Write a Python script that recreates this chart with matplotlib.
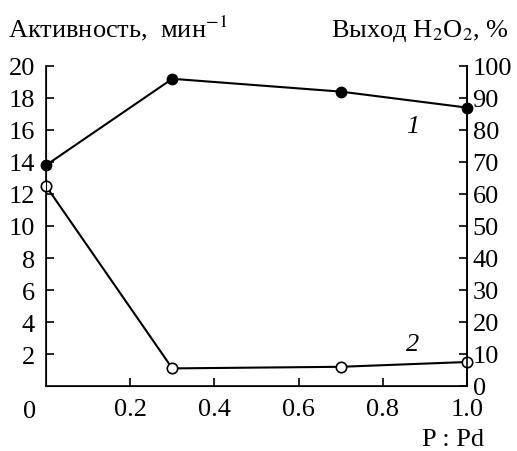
import matplotlib
matplotlib.use("Agg")
import matplotlib.pyplot as plt

x1 = [0.0, 0.3, 0.7, 1.0]
activity = [13.8, 19.2, 18.4, 17.4]
x2 = [0.0, 0.3, 0.7, 1.0]
yield_h2o2 = [12.5, 1.1, 1.2, 1.5]  # plotted on left scale

left_ticks = [2, 4, 6, 8, 10, 12, 14, 16, 18, 20]
right_ticks = [0, 10, 20, 30, 40, 50, 60, 70, 80, 90, 100]
x_ticks = [0.2, 0.4, 0.6, 0.8, 1.0]
x_tick_labels = ["0.2", "0.4", "0.6", "0.8", "1.0"]

plt.rcParams['font.family'] = ['Liberation Serif', 'DejaVu Serif']
plt.rcParams['mathtext.fontset'] = 'stix'
fs = 19

W, H = 517, 452
fig = plt.figure(figsize=(W / 100, H / 100), dpi=100)
ax = fig.add_axes([46 / W, 1 - 387 / H, 421 / W, 320 / H])
ax.set_xlim(0, 1.0)
ax.set_ylim(0, 20)

ax.plot(x1, activity, color='black', lw=1.5, marker='o', ms=7.5,
        mfc='black', mec='black', clip_on=False, zorder=5)
ax.plot(x2, yield_h2o2, color='black', lw=1.5, marker='o', ms=7.5,
        mfc='white', mec='black', mew=1.2, clip_on=False, zorder=5)

ax.spines['top'].set_visible(False)
for s in ['left', 'right', 'bottom']:
    ax.spines[s].set_linewidth(1.2)

ax.set_yticks(left_ticks)
ax.set_yticklabels([str(t) for t in left_ticks])
ax.set_xticks(x_ticks)
ax.set_xticklabels(x_tick_labels)
ax.tick_params(axis='x', direction='in', length=6, width=1.2, labelsize=fs, pad=9)
ax.tick_params(axis='y', direction='in', length=6, width=1.2, labelsize=fs, pad=8)

ax2 = ax.twinx()
ax2.set_ylim(0, 100)
ax2.set_yticks(right_ticks)
ax2.spines['top'].set_visible(False)
ax2.spines['right'].set_linewidth(1.2)
ax2.tick_params(axis='y', direction='in', length=6, width=1.2, labelsize=fs, pad=4)

# "0" at origin
fig.text(30 / W, 1 - 412 / H, "0", ha='center', va='center', fontsize=fs)

fig.text(8 / W, 1 - 37 / H, "Активность,  мин$^{-1}$", ha='left', va='baseline', fontsize=fs)
fig.text(509 / W, 1 - 37 / H, "Выход H$_2$O$_2$, %", ha='right', va='baseline', fontsize=fs)
fig.text(484 / W, 1 - 446 / H, "P : Pd", ha='right', va='baseline', fontsize=fs)

ax.text(0.87, 16.25, "1", fontsize=fs, style='italic', ha='center', va='center')
ax.text(0.87, 2.6, "2", fontsize=fs, style='italic', ha='center', va='center')

fig.savefig("out.png", dpi=100)
